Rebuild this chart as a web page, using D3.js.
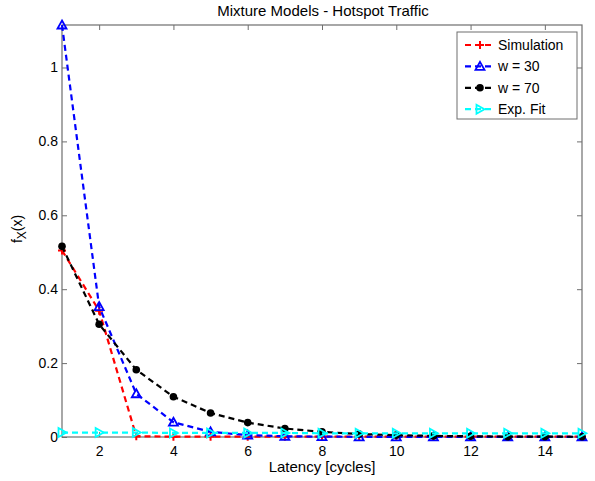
<!DOCTYPE html>
<html>
<head>
<meta charset="utf-8">
<script src="https://cdn.jsdelivr.net/npm/d3@7"></script>
<style>
body { margin: 0; background: #fff; }
text { font-family: "Liberation Sans", Arial, sans-serif; }
</style>
</head>
<body>
<div id="chart"></div>
<script>
const latencia = [1, 2, 3, 4, 5, 6, 7, 8, 9, 10, 11, 12, 13, 14, 15];
const simulacion = [0.505, 0.342, 0.002, 0.001, 0.001, 0.001, 0.001, 0.001, 0.001, 0.001, 0.001, 0.001, 0.001, 0.001, 0.001];
const w30 = [1.115, 0.353, 0.117, 0.040, 0.014, 0.005, 0.002, 0.001, 0.0005, 0.0003, 0.0002, 0.0001, 0.0001, 0.0001, 0.0001];
const w70 = [0.516, 0.305, 0.182, 0.109, 0.065, 0.039, 0.023, 0.014, 0.008, 0.005, 0.003, 0.002, 0.001, 0.001, 0.0005];
const ajuste = [0.012, 0.012, 0.012, 0.011, 0.011, 0.011, 0.011, 0.010, 0.010, 0.010, 0.010, 0.010, 0.010, 0.010, 0.010];
const ticksX = [2, 4, 6, 8, 10, 12, 14];
const ticksY = [0, 0.2, 0.4, 0.6, 0.8, 1];

const series = [
    {nombre: "Simulation", valores: simulacion, color: "#ff0000", marca: "plus"},
    {nombre: "w = 30", valores: w30, color: "#0000ff", marca: "tri"},
    {nombre: "w = 70", valores: w70, color: "#000000", marca: "dot"},
    {nombre: "Exp. Fit", valores: ajuste, color: "#00ffff", marca: "right"}
];

const ancho = 595, alto = 481;
const m = {left: 62, right: 13, top: 25, bottom: 44};

const svg = d3.select("#chart").append("svg")
    .attr("width", ancho)
    .attr("height", alto);

const x = d3.scaleLinear().domain([1, 15]).range([m.left, ancho - m.right]);
const y = d3.scaleLinear().domain([0, 1.115]).range([alto - m.bottom, m.top]);

const gris = "#6e6e6e";

// ejes con ticks hacia dentro
function estiloEje(g){
    g.select(".domain").remove();
    g.selectAll(".tick line").attr("stroke", gris);
    g.selectAll(".tick text").attr("fill", "#000").style("font-size", "14px");
}
svg.append("g")
    .attr("transform", `translate(0,${alto - m.bottom})`)
    .call(d3.axisBottom(x).tickValues(ticksX).tickSize(-5).tickPadding(9).tickFormat(d3.format("d")))
    .call(estiloEje);
svg.append("g")
    .attr("transform", `translate(0,${m.top})`)
    .call(d3.axisTop(x).tickValues(ticksX).tickSize(-5).tickFormat(""))
    .call(estiloEje);
svg.append("g")
    .attr("transform", `translate(${m.left},0)`)
    .call(d3.axisLeft(y).tickValues(ticksY).tickSize(-5).tickPadding(4).tickFormat(d => d === 0 ? "0" : d3.format("")(d)))
    .call(estiloEje);
svg.append("g")
    .attr("transform", `translate(${ancho - m.right},0)`)
    .call(d3.axisRight(y).tickValues(ticksY).tickSize(-5).tickFormat(""))
    .call(estiloEje);

svg.append("rect")
    .attr("x", m.left).attr("y", m.top)
    .attr("width", ancho - m.left - m.right)
    .attr("height", alto - m.top - m.bottom)
    .attr("fill", "none").attr("stroke", gris).attr("stroke-width", 1.2);

const linea = d3.line().x((d, i) => x(latencia[i])).y(d => y(d));

function dibujarMarca(g, tipo, color){
    if(tipo === "plus"){
        g.append("path").attr("d", "M-4,0H4M0,-4V4").attr("stroke", color).attr("stroke-width", 2).attr("fill", "none");
    } else if(tipo === "tri"){
        g.append("path").attr("d", "M0,-4.5L4.5,3.5L-4.5,3.5Z").attr("stroke", color).attr("stroke-width", 1.8).attr("fill", "none");
    } else if(tipo === "dot"){
        g.append("circle").attr("r", 3.8).attr("fill", color);
    } else {
        g.append("path").attr("d", "M4.5,0L-3.5,-4.5L-3.5,4.5Z").attr("stroke", color).attr("stroke-width", 1.8).attr("fill", "none");
    }
}

series.forEach(s => {
    const g = svg.append("g");
    g.append("path")
        .attr("d", linea(s.valores))
        .attr("fill", "none")
        .attr("stroke", s.color)
        .attr("stroke-width", 2.2)
        .attr("stroke-dasharray", "6,4");
    s.valores.forEach((v, i) => {
        const mk = g.append("g").attr("transform", `translate(${x(latencia[i])},${y(v)})`);
        dibujarMarca(mk, s.marca, s.color);
    });
});

// leyenda
const ley = svg.append("g").attr("transform", "translate(457,32)");
ley.append("rect").attr("width", 120).attr("height", 87)
    .attr("fill", "#fff").attr("stroke", gris).attr("stroke-width", 1);
series.forEach((s, i) => {
    const yy = 13 + i * 21.4;
    ley.append("line").attr("x1", 8).attr("x2", 38).attr("y1", yy).attr("y2", yy)
        .attr("stroke", s.color).attr("stroke-width", 2.2).attr("stroke-dasharray", "6,4");
    const mk = ley.append("g").attr("transform", `translate(23,${yy})`);
    dibujarMarca(mk, s.marca, s.color);
    ley.append("text").attr("x", 41).attr("y", yy + 5)
        .style("font-size", "14px").text(s.nombre);
});

// textos
svg.append("text").attr("x", 323).attr("y", 16).attr("text-anchor", "middle")
    .style("font-size", "15px").text("Mixture Models - Hotspot Traffic");
svg.append("text").attr("x", 322).attr("y", 472).attr("text-anchor", "middle")
    .style("font-size", "15px").text("Latency [cycles]");
const ty = svg.append("text").attr("transform", "translate(22,229) rotate(-90)")
    .attr("text-anchor", "middle").style("font-size", "14px");
ty.append("tspan").text("f");
ty.append("tspan").attr("dy", 4).style("font-size", "12px").text("X");
ty.append("tspan").attr("dy", -4).text("(x)");
</script>
</body>
</html>
